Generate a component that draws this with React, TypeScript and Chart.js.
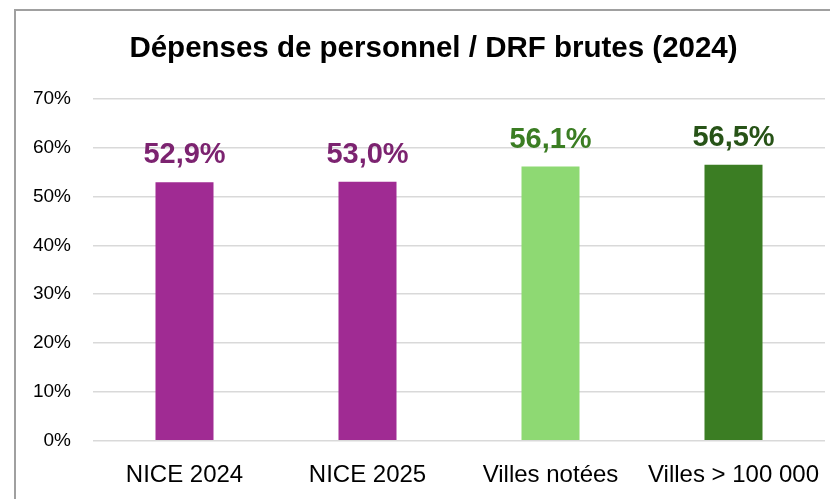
import React, { useEffect, useRef } from "react";
import { Chart, registerables } from "chart.js";

Chart.register(...registerables);

const TITLE = "Dépenses de personnel / DRF brutes (2024)";
const categories = ["NICE 2024", "NICE 2025", "Villes notées", "Villes > 100 000"];
const values = [52.9, 53.0, 56.1, 56.5];
const barColors = ["#A02B93", "#A02B93", "#8ED973", "#3B7D23"];
const labelColors = ["#7C2370", "#7C2370", "#3B7D23", "#275317"];
const yTicks = [0, 10, 20, 30, 40, 50, 60, 70];

const FONT = "'Liberation Sans', Arial, sans-serif";

const framePlugin = {
  id: "frame",
  beforeDraw(chart: any) {
    const ctx = chart.ctx;
    ctx.save();
    ctx.fillStyle = "#ffffff";
    ctx.fillRect(0, 0, chart.width, chart.height);
    ctx.strokeStyle = "#A0A0A0";
    ctx.lineWidth = 2;
    ctx.strokeRect(15, 10, chart.width + 20, chart.height + 20);
    ctx.restore();
  },
  afterDraw(chart: any) {
    const ctx = chart.ctx;
    ctx.save();
    ctx.fillStyle = "#000000";
    ctx.font = `bold 29.5px ${FONT}`;
    ctx.textAlign = "center";
    ctx.textBaseline = "middle";
    ctx.fillText(TITLE, 433.5, 49);
    ctx.restore();
  },
};

const labelPlugin = {
  id: "barLabels",
  afterDatasetsDraw(chart: any) {
    const ctx = chart.ctx;
    const meta = chart.getDatasetMeta(0);
    ctx.save();
    ctx.font = `bold 29px ${FONT}`;
    ctx.textAlign = "center";
    ctx.textBaseline = "alphabetic";
    meta.data.forEach((bar: any, i: number) => {
      const v = values[i];
      ctx.fillStyle = labelColors[i];
      ctx.fillText(v.toFixed(1).replace(".", ",") + "%", bar.x, bar.y - 19);
    });
    ctx.restore();
  },
};

export default function App() {
  const ref = useRef<HTMLCanvasElement>(null);
  useEffect(() => {
    if (!ref.current) return;
    const chart = new Chart(ref.current, {
      type: "bar",
      data: {
        labels: categories,
        datasets: [
          {
            data: values,
            backgroundColor: barColors,
            borderWidth: 0,
            barPercentage: 0.634,
            categoryPercentage: 0.5,
          },
        ],
      },
      options: {
        responsive: false,
        animation: false,
        devicePixelRatio: 1,
        layout: { padding: { left: 0, right: 5, top: 98.7, bottom: 0 } },
        plugins: {
          legend: { display: false },
          title: { display: false },
          tooltip: { enabled: false },
        },
        scales: {
          x: {
            grid: { display: false, drawTicks: false },
            border: { display: false },
            ticks: {
              color: "#000000",
              font: { family: FONT, size: 24 },
              padding: 20,
              maxRotation: 0,
              autoSkip: false,
            },
            afterFit(scale: any) {
              scale.height = 58.3;
              scale.paddingLeft = 0;
              scale.paddingRight = 0;
            },
          },
          y: {
            min: 0,
            max: 70,
            afterBuildTicks(scale: any) {
              scale.ticks = yTicks.map((v) => ({ value: v }));
            },
            grid: { color: "#D9D9D9", lineWidth: 1.5, drawTicks: false },
            border: { display: false },
            ticks: {
              color: "#000000",
              font: { family: FONT, size: 19 },
              padding: 22,
              callback: (v: any) => v + "%",
            },
            afterFit(scale: any) {
              scale.width = 93;
              scale.paddingTop = 0;
              scale.paddingBottom = 0;
            },
          },
        },
      },
      plugins: [framePlugin, labelPlugin],
    });
    return () => chart.destroy();
  }, []);
  return (
    <div style={{ position: "fixed", left: 0, top: 0, width: 830, height: 499 }}>
      <canvas ref={ref} width={830} height={499} style={{ display: "block" }} />
    </div>
  );
}
